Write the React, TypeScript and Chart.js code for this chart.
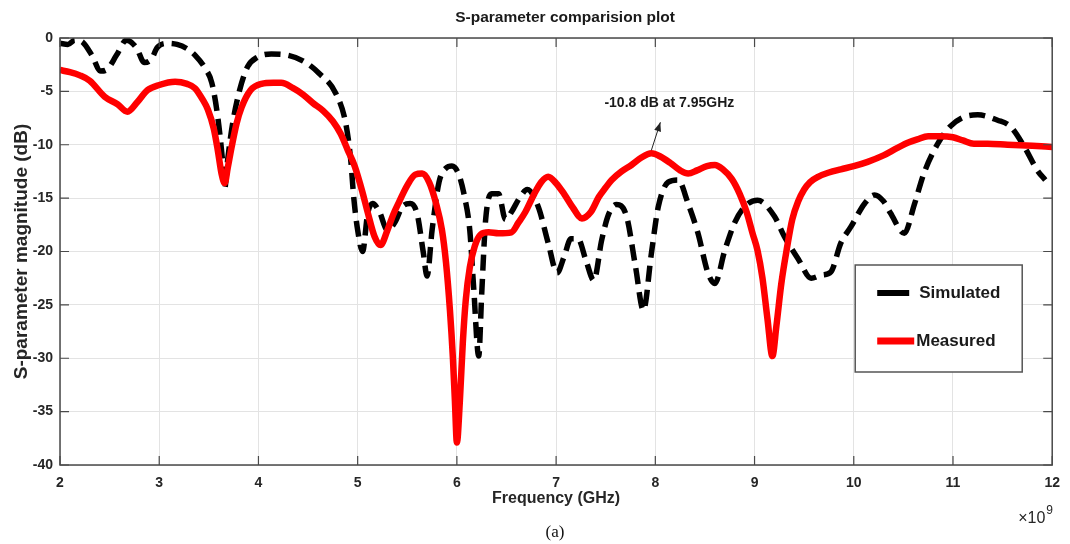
import React, { useEffect, useRef } from "react";
import { Chart, registerables } from "chart.js";

Chart.register(...registerables);

// ---------------- data ----------------
const simFreq = [
  2.0, 2.08, 2.15, 2.23, 2.32, 2.41, 2.48, 2.57, 2.67, 2.77, 2.85, 2.92, 2.98, 3.08, 3.18, 3.28,
  3.36, 3.46, 3.53, 3.59, 3.64, 3.66, 3.69, 3.74, 3.81, 3.89, 3.99, 4.13, 4.29, 4.46, 4.61, 4.78,
  4.88, 4.93, 4.96, 5.0, 5.05, 5.1, 5.15, 5.22, 5.3, 5.38, 5.45, 5.53, 5.6, 5.66, 5.7, 5.75,
  5.82, 5.89, 5.95, 6.02, 6.08, 6.13, 6.17, 6.22, 6.25, 6.29, 6.35, 6.42, 6.49, 6.55, 6.63, 6.71,
  6.82, 6.92, 7.01, 7.08, 7.15, 7.22, 7.3, 7.38, 7.46, 7.53, 7.61, 7.71, 7.8, 7.88, 7.96, 8.03,
  8.13, 8.23, 8.33, 8.43, 8.53, 8.6, 8.7, 8.8, 8.9, 9.03, 9.2, 9.3, 9.44, 9.57, 9.68, 9.77,
  9.87, 9.97, 10.11, 10.21, 10.3, 10.37, 10.51, 10.61, 10.71, 10.84, 10.97, 11.11, 11.25, 11.45,
  11.58, 11.72, 11.85, 11.93,
];
const simDb = [
  -0.5, -0.6, -0.2, -0.4, -1.6, -3.1, -2.9, -1.6, -0.2, -0.9, -2.3, -2.0, -0.9, -0.5, -0.6, -1.0,
  -1.6, -2.8, -4.2, -7.4, -11.7, -14.1, -11.4, -8.0, -4.9, -2.7, -1.8, -1.5, -1.6, -2.2, -3.3, -5.2,
  -8.0, -11.4, -14.9, -18.0, -20.0, -16.5, -15.5, -16.3, -18.0, -17.2, -15.8, -15.5, -16.5, -20.0, -22.3, -18.0,
  -13.5, -12.2, -12.0, -12.8, -15.0, -18.0, -23.5, -29.8, -24.0, -17.0, -14.6, -14.6, -17.0, -16.3, -15.0, -14.2,
  -15.8, -19.2, -22.0, -20.5, -18.8, -18.8, -20.8, -22.7, -18.9, -16.5, -15.6, -16.7, -21.4, -25.5, -20.2, -15.8,
  -13.5, -13.3, -15.5, -18.3, -22.0, -23.0, -19.9, -17.3, -15.8, -15.2, -16.7, -18.6, -20.7, -22.5, -22.2, -21.9,
  -19.2, -17.7, -15.5, -14.7, -15.3, -16.4, -18.3, -15.6, -12.6, -10.0, -8.3, -7.4, -7.2, -7.7,
  -8.3, -10.2, -12.4, -13.3,
];

const measFreq = [
  2.0, 2.1, 2.2, 2.3, 2.45, 2.58, 2.68, 2.78, 2.88, 3.0, 3.16, 3.28, 3.36, 3.44, 3.49, 3.55,
  3.59, 3.63, 3.66, 3.69, 3.73, 3.78, 3.83, 3.92, 4.03, 4.15, 4.23, 4.35, 4.45, 4.55, 4.65, 4.75,
  4.83, 4.9, 4.97, 5.05, 5.1, 5.17, 5.23, 5.3, 5.36, 5.42, 5.5, 5.58, 5.65, 5.72, 5.79, 5.85,
  5.89, 5.93, 5.96, 5.98, 6.0, 6.03, 6.06, 6.09, 6.13, 6.18, 6.24, 6.32, 6.42, 6.55, 6.62, 6.69,
  6.78, 6.85, 6.92, 7.0, 7.08, 7.17, 7.26, 7.35, 7.43, 7.5, 7.56, 7.66, 7.76, 7.86, 7.96, 8.05,
  8.15, 8.25, 8.33, 8.42, 8.52, 8.6, 8.68, 8.77, 8.85, 8.92, 8.98, 9.03, 9.08, 9.13, 9.18, 9.22,
  9.27, 9.33, 9.38, 9.44, 9.5, 9.56, 9.64, 9.75, 9.87, 10.0, 10.14, 10.3, 10.44, 10.55, 10.64, 10.75,
  10.87, 11.0, 11.1, 11.21, 11.35, 11.55, 11.8, 12.0,
];
const measDb = [
  -3.0, -3.2, -3.5, -4.0, -5.5, -6.2, -6.9, -6.0, -4.9, -4.4, -4.1, -4.3, -4.7, -5.8, -6.7, -8.5,
  -10.5, -12.8, -13.6, -12.2, -10.2, -8.0, -6.5, -4.9, -4.3, -4.2, -4.2, -4.7, -5.3, -6.1, -6.8, -7.8,
  -9.0, -10.5, -12.0, -14.5, -16.3, -18.6, -19.4, -18.0, -16.5, -15.3, -13.8, -12.8, -12.7, -13.5, -15.5, -18.0,
  -21.0, -25.5, -30.0, -34.0, -37.9, -34.0, -28.5, -24.5, -21.5, -19.5, -18.4, -18.2, -18.3, -18.2, -17.3, -16.3,
  -14.6, -13.5, -13.0, -13.6, -14.6, -15.9, -16.9, -16.3, -14.9, -14.0, -13.3, -12.5, -11.9, -11.2, -10.8, -11.1,
  -11.7, -12.4, -12.7, -12.4, -12.0, -11.9, -12.3, -13.2, -14.6, -16.3, -18.3, -19.9, -22.5, -26.3, -29.8, -27.0,
  -23.0, -19.5, -17.0, -15.3, -14.2, -13.5, -13.0, -12.6, -12.3, -12.0, -11.6, -11.0, -10.3, -9.8, -9.5, -9.2,
  -9.2, -9.3, -9.6, -9.9, -9.9, -10.0, -10.1, -10.2,
];

const xTicks = [2, 3, 4, 5, 6, 7, 8, 9, 10, 11, 12];
const yTicks = [0, -5, -10, -15, -20, -25, -30, -35, -40];
const seriesNames = ["Simulated", "Measured"];
const titleText = "S-parameter comparision plot";
const xLabel = "Frequency (GHz)";
const yLabel = "S-parameter magnitude (dB)";
const annoFreq = 7.95;
const annoDb = -10.8;
const annoText = "-10.8 dB at 7.95GHz";
const exponentBase = "\u00d710";
const exponentPower = "9";
const captionText = "(a)";

const FONT = "'Liberation Sans', Arial, Helvetica, sans-serif";

const decorPlugin = {
  id: "decor",
  afterDraw(chart: any) {
    const { ctx, chartArea } = chart;
    const { left, right, top, bottom } = chartArea;
    const xs = chart.scales.x;
    const ys = chart.scales.y;
    ctx.save();

    // box
    ctx.strokeStyle = "#4a4a4a";
    ctx.lineWidth = 1.5;
    ctx.strokeRect(left, top, right - left, bottom - top);

    // inward ticks
    ctx.lineWidth = 1.2;
    ctx.beginPath();
    xTicks.forEach((v) => {
      const px = xs.getPixelForValue(v);
      ctx.moveTo(px, bottom);
      ctx.lineTo(px, bottom - 9);
      ctx.moveTo(px, top);
      ctx.lineTo(px, top + 9);
    });
    yTicks.forEach((v) => {
      const py = ys.getPixelForValue(v);
      ctx.moveTo(left, py);
      ctx.lineTo(left + 9, py);
      ctx.moveTo(right, py);
      ctx.lineTo(right - 9, py);
    });
    ctx.stroke();

    // title
    ctx.fillStyle = "#1a1a1a";
    ctx.font = `bold 15.5px ${FONT}`;
    ctx.textAlign = "center";
    ctx.textBaseline = "middle";
    ctx.fillText(titleText, 565, 18);

    // annotation arrow + text
    const ax = xs.getPixelForValue(annoFreq);
    const ay = ys.getPixelForValue(annoDb);
    const sx = ax + 1;
    const sy = ay - 3;
    const ex = ax + 10;
    const ey = ay - 31;
    ctx.strokeStyle = "#222";
    ctx.lineWidth = 1;
    ctx.beginPath();
    ctx.moveTo(sx, sy);
    ctx.lineTo(ex, ey);
    ctx.stroke();
    const ang = Math.atan2(ey - sy, ex - sx);
    ctx.fillStyle = "#222";
    ctx.beginPath();
    ctx.moveTo(ex, ey);
    ctx.lineTo(ex - 9 * Math.cos(ang) + 3.5 * Math.sin(ang), ey - 9 * Math.sin(ang) - 3.5 * Math.cos(ang));
    ctx.lineTo(ex - 9 * Math.cos(ang) - 3.5 * Math.sin(ang), ey - 9 * Math.sin(ang) + 3.5 * Math.cos(ang));
    ctx.closePath();
    ctx.fill();
    ctx.fillStyle = "#1a1a1a";
    ctx.font = `bold 14px ${FONT}`;
    ctx.textAlign = "center";
    ctx.fillText(annoText, ax + 19, ay - 50);

    // legend
    const lx = right - 197;
    const ly = top + 227;
    const lw = 167;
    const lh = 107;
    ctx.fillStyle = "#ffffff";
    ctx.fillRect(lx, ly, lw, lh);
    ctx.strokeStyle = "#555";
    ctx.lineWidth = 1.5;
    ctx.strokeRect(lx, ly, lw, lh);
    ctx.lineCap = "butt";
    ctx.strokeStyle = "#000";
    ctx.lineWidth = 6;
    ctx.beginPath();
    ctx.moveTo(lx + 22, ly + 28);
    ctx.lineTo(lx + 54, ly + 28);
    ctx.stroke();
    ctx.strokeStyle = "#ff0000";
    ctx.lineWidth = 7;
    ctx.beginPath();
    ctx.moveTo(lx + 22, ly + 76);
    ctx.lineTo(lx + 59, ly + 76);
    ctx.stroke();
    ctx.fillStyle = "#1a1a1a";
    ctx.font = `bold 17px ${FONT}`;
    ctx.textAlign = "left";
    ctx.textBaseline = "middle";
    ctx.fillText(seriesNames[0], lx + 64, ly + 28);
    ctx.fillText(seriesNames[1], lx + 61, ly + 76);

    // exponent
    ctx.fillStyle = "#262626";
    ctx.font = `16px ${FONT}`;
    ctx.textAlign = "left";
    ctx.textBaseline = "alphabetic";
    const bx = right - 34;
    const by = bottom + 58;
    ctx.fillText(exponentBase, bx, by);
    const bw = ctx.measureText(exponentBase).width;
    ctx.font = `12px ${FONT}`;
    ctx.fillText(exponentPower, bx + bw + 1, by - 9);

    // caption
    ctx.fillStyle = "#111";
    ctx.font = `17px 'Liberation Serif', 'Times New Roman', serif`;
    ctx.textAlign = "center";
    ctx.textBaseline = "middle";
    ctx.fillText(captionText, 555, 533);

    ctx.restore();
  },
};

export default function App() {
  const ref = useRef<HTMLCanvasElement | null>(null);

  useEffect(() => {
    if (!ref.current) return;
    const simPts = simFreq.map((f, i) => ({ x: f, y: simDb[i] }));
    const measPts = measFreq.map((f, i) => ({ x: f, y: measDb[i] }));
    const chart = new Chart(ref.current, {
      type: "line",
      data: {
        datasets: [
          {
            label: seriesNames[0],
            data: simPts,
            borderColor: "#000000",
            borderWidth: 5.5,
            borderDash: [16, 8],
            borderCapStyle: "butt",
            pointRadius: 0,
            cubicInterpolationMode: "monotone",
            fill: false,
            order: 1,
          },
          {
            label: seriesNames[1],
            data: measPts,
            borderColor: "#ff0000",
            borderWidth: 6.5,
            pointRadius: 0,
            cubicInterpolationMode: "monotone",
            fill: false,
            order: 0,
          },
        ],
      },
      options: {
        responsive: false,
        animation: false,
        events: [],
        layout: { padding: { left: 0, right: 14, top: 38, bottom: 0 } },
        plugins: {
          legend: { display: false },
          title: { display: false },
          tooltip: { enabled: false },
        },
        scales: {
          x: {
            type: "linear",
            min: 2,
            max: 12,
            afterFit: (s: any) => {
              s.height = 79;
            },
            afterBuildTicks: (s: any) => {
              s.ticks = xTicks.map((v) => ({ value: v }));
            },
            ticks: {
              padding: 10,
              color: "#262626",
              font: { family: FONT, size: 14, weight: "bold" },
              maxRotation: 0,
            },
            grid: { color: "#e3e3e3", lineWidth: 1, drawTicks: false },
            border: { display: false },
            title: {
              display: true,
              text: xLabel,
              color: "#262626",
              font: { family: FONT, size: 16, weight: "bold" },
              padding: { top: 0, bottom: 36 },
            },
          },
          y: {
            type: "linear",
            min: -40,
            max: 0,
            afterFit: (s: any) => {
              s.width = 60;
            },
            afterBuildTicks: (s: any) => {
              s.ticks = yTicks.map((v) => ({ value: v }));
            },
            ticks: {
              padding: 7,
              color: "#262626",
              font: { family: FONT, size: 14, weight: "bold" },
            },
            grid: { color: "#e3e3e3", lineWidth: 1, drawTicks: false },
            border: { display: false },
            title: {
              display: true,
              text: yLabel,
              color: "#262626",
              font: { family: FONT, size: 19, weight: "bold" },
              padding: { top: 10, bottom: 0 },
            },
          },
        },
      },
      plugins: [decorPlugin],
    } as any);
    return () => chart.destroy();
  }, []);

  return (
    <div style={{ position: "absolute", left: 0, top: 0, width: 1070, height: 544, background: "#ffffff" }}>
      <canvas ref={ref} width={1070} height={544} style={{ width: 1070, height: 544, display: "block" }} />
    </div>
  );
}
